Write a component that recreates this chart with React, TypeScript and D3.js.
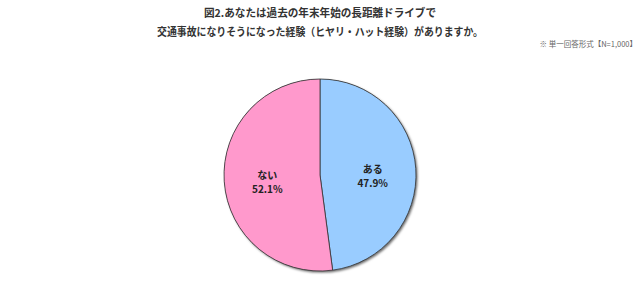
import React from "react";
import * as d3 from "d3";

const categories = ["ある", "ない"];
const values = [47.9, 52.1];
const colors = ["#99CCFF", "#FF99CC"];
const titleLines = [
  "図2.あなたは過去の年末年始の長距離ドライブで",
  "交通事故になりそうになった経験（ヒヤリ・ハット経験）がありますか。",
];
const note = "※ 単一回答形式【N=1,000】";

const W = 640;
const H = 298;
const cx = 320;
const cy = 175;
const R = 96;
const FONT = "'Noto Sans CJK JP', 'Noto Sans', sans-serif";
const titleWidths = [232, 326];

export default function App() {
  const data = categories.map((c, i) => ({ label: c, value: values[i], color: colors[i] }));
  const pie = d3.pie<any>().value((d) => d.value).sort(null);
  const arcs = pie(data);
  const arc = d3.arc<any>().innerRadius(0).outerRadius(R);
  const labelArc = d3.arc<any>().innerRadius(R * 0.55).outerRadius(R * 0.55);

  return (
    <svg
      width={W}
      height={H}
      style={{ position: "absolute", left: 0, top: 0, background: "#fff" }}
    >
      <defs>
        <filter id="pieShadow" x="-20%" y="-20%" width="140%" height="140%">
          <feDropShadow dx="1.5" dy="1.5" stdDeviation="0.8" floodColor="#000" floodOpacity="0.6" />
        </filter>
      </defs>
      {titleLines.map((t, i) => (
        <text
          key={i}
          x={cx}
          y={17 + i * 19}
          textAnchor="middle"
          fontFamily={FONT}
          fontWeight="bold"
          fontSize={10.8}
          fill="#333"
          textLength={titleWidths[i]}
          lengthAdjust="spacingAndGlyphs"
        >
          {t}
        </text>
      ))}
      <text x={637} y={47} textAnchor="end" fontFamily={FONT} fontSize={7.5} fill="#666">
        {note}
      </text>
      <g transform={`translate(${cx},${cy})`}>
        <circle r={R} fill="#555" filter="url(#pieShadow)" />
        {arcs.map((a, i) => (
          <path key={i} d={arc(a) || ""} fill={a.data.color} stroke="#333" strokeWidth={0.8} />
        ))}
        {arcs.map((a, i) => {
          const [x, y] = labelArc.centroid(a);
          return (
            <g key={"l" + i} fontFamily={FONT} fontWeight="bold" fontSize={10} fill="#222" textAnchor="middle">
              <text x={x} y={y + 1}>{a.data.label}</text>
              <text x={x} y={y + 15}>{a.data.value.toFixed(1) + "%"}</text>
            </g>
          );
        })}
      </g>
    </svg>
  );
}
